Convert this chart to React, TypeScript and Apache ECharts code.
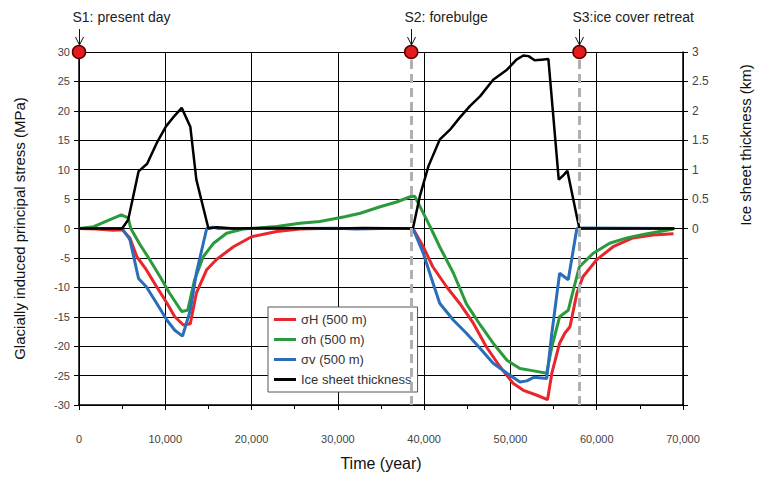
import React, { useEffect, useRef } from "react";
import * as echarts from "echarts";

// Stress series (x: year, y: MPa)
const sigmaH: [number, number][] = [
  [0, 0], [2000, -0.1], [4000, -0.3], [5000, -0.2], [5900, -1.6], [6700, -4.8], [7800, -7.0],
  [9000, -9.9], [10200, -12.7], [11100, -15.0], [12100, -16.4], [12900, -16.2], [13600, -11.0],
  [14800, -7.0], [15900, -5.3], [17900, -3.1], [20000, -1.4], [22900, -0.5], [25600, -0.1],
  [28000, 0], [32000, 0], [36000, 0], [38700, 0], [39900, -3.1], [41000, -6.5], [42600, -9.9],
  [44100, -12.7], [45700, -16.1], [47200, -20.1], [48800, -23.5], [50300, -26.3], [51500, -27.5],
  [53000, -28.3], [54300, -29.1], [54800, -24.6], [55700, -19.5], [56300, -17.8], [56900, -16.7],
  [57700, -11.0], [58400, -8.2], [60000, -5.3], [61900, -3.1], [64200, -1.6], [66500, -1.1], [68900, -0.9],
];
const sigmaHmin: [number, number][] = [
  [0, 0], [1700, 0.3], [3600, 1.5], [4900, 2.3], [5700, 1.8], [6000, 0], [7100, -2.8], [8200, -5.3],
  [9400, -8.2], [10500, -11.0], [11900, -14.1], [12600, -13.9], [13400, -8.7], [14400, -4.8],
  [15600, -2.5], [17100, -0.8], [19000, -0.1], [22900, 0.35], [25600, 0.9], [27900, 1.2],
  [30800, 2.0], [32600, 2.6], [34900, 3.7], [36800, 4.5], [38400, 5.4], [38900, 5.5], [39700, 3.2],
  [40700, 0.3], [41800, -3.1], [43400, -7.6], [44900, -12.8], [46500, -16.4], [48000, -19.5],
  [49600, -22.4], [51100, -23.8], [52700, -24.2], [54200, -24.6], [54800, -20.1], [55700, -15.0],
  [56700, -13.9], [57300, -10.4], [58000, -6.5], [59600, -4.2], [61500, -2.5], [63500, -1.6],
  [65400, -1.0], [67300, -0.5], [68900, -0.1],
];
const sigmaV: [number, number][] = [
  [0, 0], [5000, 0], [5900, -1.9], [6900, -8.5], [7800, -9.9], [9000, -12.7], [10200, -15.6],
  [11100, -17.3], [12000, -18.3], [12900, -13.9], [13600, -7.6], [14800, 0], [15500, 0.2],
  [16200, 0], [20000, 0], [25000, 0], [30000, 0.05], [32000, -0.1], [35000, 0], [38700, 0],
  [39900, -4.2], [40900, -8.7], [41800, -12.7], [43400, -15.6], [44900, -17.8], [46500, -20.4],
  [48000, -22.9], [49600, -24.6], [51100, -26.1], [51900, -25.9], [52700, -25.3], [54200, -25.5],
  [54800, -17.8], [55700, -7.6], [56700, -8.7], [57700, 0], [58500, 0.1], [69000, 0],
];
// Ice sheet thickness (km)
const iceThickness: [number, number][] = [
  [0, 0], [5000, 0], [5700, 0.15], [6200, 0.49], [6900, 0.97], [7900, 1.1], [9000, 1.45],
  [10100, 1.74], [11100, 1.92], [11900, 2.05], [12900, 1.73], [13600, 0.83], [15000, 0],
  [16000, 0.02], [18000, 0], [22000, 0.01], [30000, 0], [33000, 0.01], [38700, 0], [39500, 0.55],
  [40500, 1.06], [41800, 1.51], [43000, 1.68], [44100, 1.88], [45300, 2.08], [46500, 2.25],
  [48000, 2.53], [49600, 2.7], [50700, 2.87], [51500, 2.94], [52100, 2.93], [52800, 2.86],
  [53600, 2.87], [54400, 2.88], [55600, 0.83], [56100, 0.9], [56600, 0.98], [57700, 0.2],
  [58000, 0], [69000, 0],
];
// Stages
const stageYears = [0, 38500, 58000];
const stageLabels = ["S1: present day", "S2: forebulge", "S3:ice cover retreat"];
const legendNames = ["σH (500 m)", "σh (500 m)", "σv (500 m)", "Ice sheet thickness"];

const FONT = "'Liberation Sans', Arial, sans-serif";

export default function App() {
  const ref = useRef<HTMLDivElement>(null);
  useEffect(() => {
    if (!ref.current) return;
    const chart = echarts.init(ref.current, undefined, { renderer: "svg" });
    const labelStyle = { color: "#444", fontSize: 11, fontFamily: FONT };
    chart.setOption({
      animation: false,
      textStyle: { fontFamily: FONT },
      grid: { left: 79, right: 75, top: 52, bottom: 74 },
      legend: {
        data: legendNames,
        orient: "vertical",
        left: 268,
        top: 307,
        icon: "rect",
        itemWidth: 22,
        itemHeight: 3,
        itemGap: 7,
        padding: [6, 6, 6, 6],
        backgroundColor: "#fff",
        borderColor: "#555",
        borderWidth: 1,
        textStyle: { fontSize: 13, color: "#333", fontFamily: FONT },
      },
      xAxis: {
        type: "value",
        min: 0,
        max: 70000,
        interval: 10000,
        name: "Time (year)",
        nameLocation: "middle",
        nameGap: 50,
        nameTextStyle: { fontSize: 16, color: "#111", fontFamily: FONT },
        axisLine: { show: true, onZero: false, lineStyle: { color: "#000", width: 1.5 } },
        axisTick: { show: true, length: 5, lineStyle: { color: "#000" } },
        minorTick: { show: true, splitNumber: 2, length: 4, lineStyle: { color: "#000" } },
        splitLine: { show: true, lineStyle: { color: "#000", width: 1 } },
        axisLabel: {
          ...labelStyle,
          margin: 28,
          formatter: (v: number) => v.toLocaleString("en-US"),
        },
      },
      yAxis: [
        {
          type: "value",
          min: -30,
          max: 30,
          interval: 5,
          name: "Glacially induced principal stress (MPa)",
          nameLocation: "middle",
          nameGap: 52,
          nameTextStyle: { fontSize: 15, color: "#111", fontFamily: FONT },
          axisLine: { show: true, lineStyle: { color: "#000", width: 1.5 } },
          axisTick: { show: true, length: 5, lineStyle: { color: "#000" } },
          splitLine: { show: true, lineStyle: { color: "#000", width: 1 } },
          axisLabel: { ...labelStyle, margin: 9 },
        },
        {
          type: "value",
          min: -3,
          max: 3,
          interval: 0.5,
          position: "right",
          axisLine: { show: true, lineStyle: { color: "#000", width: 1.5 } },
          axisTick: { show: true, length: 5, lineStyle: { color: "#000" } },
          splitLine: { show: false },
          axisLabel: {
            ...labelStyle,
            fontSize: 12,
            margin: 9,
            formatter: (v: number) => (v < 0 ? "" : String(v)),
          },
        },
      ],
      series: [
        {
          name: legendNames[0],
          type: "line",
          data: sigmaH,
          symbol: "none",
          lineStyle: { color: "#e8262b", width: 3 },
          itemStyle: { color: "#e8262b" },
          markLine: {
            silent: true,
            symbol: "none",
            label: { show: false },
            lineStyle: { color: "#b0b0b0", width: 3, type: [9, 5] },
            data: stageYears.slice(1).map((x) => ({ xAxis: x })),
          },
        },
        {
          name: legendNames[1],
          type: "line",
          data: sigmaHmin,
          symbol: "none",
          lineStyle: { color: "#2a9a3c", width: 3 },
          itemStyle: { color: "#2a9a3c" },
        },
        {
          name: legendNames[2],
          type: "line",
          data: sigmaV,
          symbol: "none",
          lineStyle: { color: "#2a6db8", width: 3 },
          itemStyle: { color: "#2a6db8" },
        },
        {
          name: legendNames[3],
          type: "line",
          yAxisIndex: 1,
          data: iceThickness,
          symbol: "none",
          lineStyle: { color: "#000", width: 2.5 },
          itemStyle: { color: "#000" },
        },
        {
          name: "stages",
          type: "scatter",
          data: stageYears.map((x) => [x, 30]),
          symbolSize: 13,
          clip: false,
          z: 10,
          itemStyle: { color: "#e51b1b", borderColor: "#5a0000", borderWidth: 1.5, opacity: 1 },
        },
      ],
    });

    const graphics: any[] = [];
    stageYears.forEach((x, i) => {
      const p = chart.convertToPixel({ gridIndex: 0 }, [x, 30]) as number[];
      const px = Math.round(p[0]) + 0.5;
      graphics.push({
        type: "text",
        x: px - 7,
        y: 17,
        style: { text: stageLabels[i], fontSize: 14, fill: "#222", fontFamily: FONT, verticalAlign: "middle" },
      });
      graphics.push({
        type: "line",
        shape: { x1: px, y1: 29, x2: px, y2: 45 },
        style: { stroke: "#111", lineWidth: 1 },
      });
      graphics.push({
        type: "polyline",
        shape: { points: [[px - 4, 37], [px, 45], [px + 4, 37]] },
        style: { stroke: "#111", lineWidth: 1, fill: "none" },
      });
    });
    graphics.push({
      type: "text",
      x: 745,
      y: 145,
      rotation: Math.PI / 2,
      style: {
        text: "Ice sheet thickness (km)",
        fontSize: 15,
        fill: "#111",
        fontFamily: FONT,
        align: "center",
        verticalAlign: "middle",
      },
    });
    chart.setOption({ graphic: graphics });

    return () => chart.dispose();
  }, []);
  return (
    <div
      ref={ref}
      style={{ position: "fixed", left: 0, top: 0, width: 758, height: 479, background: "#fff" }}
    />
  );
}
